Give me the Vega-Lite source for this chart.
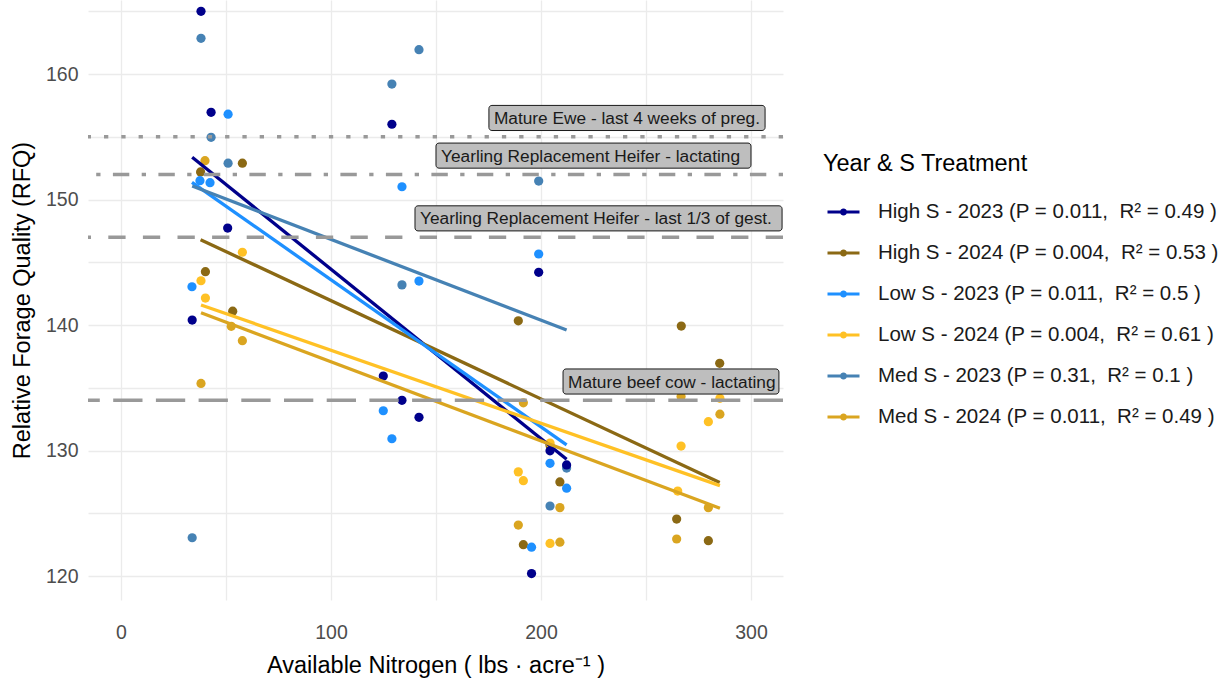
{
  "$schema": "https://vega.github.io/schema/vega-lite/v6.json",
  "width": 695,
  "height": 600,
  "autosize": {"type": "none"},
  "padding": {"left": 88, "top": 0, "right": 442, "bottom": 79},
  "background": "white",
  "config": {
    "view": {"stroke": null},
    "font": "Liberation Sans",
    "axis": {"labelFont": "Liberation Sans", "titleFont": "Liberation Sans"},
    "legend": {"labelFont": "Liberation Sans", "titleFont": "Liberation Sans"}
  },
  "datasets": {
    "points": [
      {"group": "Med S - 2023 (P = 0.31, \u00a0R² = 0.1 )", "nitrogen": 212.2, "rfq": 128.6},
      {"group": "Med S - 2023 (P = 0.31, \u00a0R² = 0.1 )", "nitrogen": 38.1, "rfq": 162.85},
      {"group": "Med S - 2023 (P = 0.31, \u00a0R² = 0.1 )", "nitrogen": 42.9, "rfq": 154.96},
      {"group": "Med S - 2023 (P = 0.31, \u00a0R² = 0.1 )", "nitrogen": 51.0, "rfq": 152.9},
      {"group": "Med S - 2023 (P = 0.31, \u00a0R² = 0.1 )", "nitrogen": 33.9, "rfq": 123.05},
      {"group": "Med S - 2023 (P = 0.31, \u00a0R² = 0.1 )", "nitrogen": 141.9, "rfq": 161.94},
      {"group": "Med S - 2023 (P = 0.31, \u00a0R² = 0.1 )", "nitrogen": 129.0, "rfq": 159.2},
      {"group": "Med S - 2023 (P = 0.31, \u00a0R² = 0.1 )", "nitrogen": 133.8, "rfq": 143.2},
      {"group": "Med S - 2023 (P = 0.31, \u00a0R² = 0.1 )", "nitrogen": 198.9, "rfq": 151.47},
      {"group": "Med S - 2023 (P = 0.31, \u00a0R² = 0.1 )", "nitrogen": 204.3, "rfq": 125.58},

      {"group": "High S - 2024 (P = 0.004, \u00a0R² = 0.53 )", "nitrogen": 37.9, "rfq": 152.2},
      {"group": "High S - 2024 (P = 0.004, \u00a0R² = 0.53 )", "nitrogen": 57.8, "rfq": 152.9},
      {"group": "High S - 2024 (P = 0.004, \u00a0R² = 0.53 )", "nitrogen": 40.2, "rfq": 144.25},
      {"group": "High S - 2024 (P = 0.004, \u00a0R² = 0.53 )", "nitrogen": 53.2, "rfq": 141.1},
      {"group": "High S - 2024 (P = 0.004, \u00a0R² = 0.53 )", "nitrogen": 189.2, "rfq": 140.34},
      {"group": "High S - 2024 (P = 0.004, \u00a0R² = 0.53 )", "nitrogen": 191.6, "rfq": 122.5},
      {"group": "High S - 2024 (P = 0.004, \u00a0R² = 0.53 )", "nitrogen": 209.0, "rfq": 127.5},
      {"group": "High S - 2024 (P = 0.004, \u00a0R² = 0.53 )", "nitrogen": 204.3, "rfq": 130.4},
      {"group": "High S - 2024 (P = 0.004, \u00a0R² = 0.53 )", "nitrogen": 266.8, "rfq": 139.92},
      {"group": "High S - 2024 (P = 0.004, \u00a0R² = 0.53 )", "nitrogen": 285.1, "rfq": 136.95},
      {"group": "High S - 2024 (P = 0.004, \u00a0R² = 0.53 )", "nitrogen": 264.6, "rfq": 124.54},
      {"group": "High S - 2024 (P = 0.004, \u00a0R² = 0.53 )", "nitrogen": 279.7, "rfq": 122.82},

      {"group": "Low S - 2024 (P = 0.004, \u00a0R² = 0.61 )", "nitrogen": 57.8, "rfq": 145.8},
      {"group": "Low S - 2024 (P = 0.004, \u00a0R² = 0.61 )", "nitrogen": 38.1, "rfq": 143.53},
      {"group": "Low S - 2024 (P = 0.004, \u00a0R² = 0.61 )", "nitrogen": 40.2, "rfq": 142.15},
      {"group": "Low S - 2024 (P = 0.004, \u00a0R² = 0.61 )", "nitrogen": 189.2, "rfq": 128.3},
      {"group": "Low S - 2024 (P = 0.004, \u00a0R² = 0.61 )", "nitrogen": 191.6, "rfq": 127.6},
      {"group": "Low S - 2024 (P = 0.004, \u00a0R² = 0.61 )", "nitrogen": 204.3, "rfq": 130.6},
      {"group": "Low S - 2024 (P = 0.004, \u00a0R² = 0.61 )", "nitrogen": 204.3, "rfq": 122.6},
      {"group": "Low S - 2024 (P = 0.004, \u00a0R² = 0.61 )", "nitrogen": 285.2, "rfq": 134.16},
      {"group": "Low S - 2024 (P = 0.004, \u00a0R² = 0.61 )", "nitrogen": 279.7, "rfq": 132.3},
      {"group": "Low S - 2024 (P = 0.004, \u00a0R² = 0.61 )", "nitrogen": 266.7, "rfq": 130.36},
      {"group": "Low S - 2024 (P = 0.004, \u00a0R² = 0.61 )", "nitrogen": 265.1, "rfq": 126.77},

      {"group": "Med S - 2024 (P = 0.011, \u00a0R² = 0.49 )", "nitrogen": 40.0, "rfq": 153.1},
      {"group": "Med S - 2024 (P = 0.011, \u00a0R² = 0.49 )", "nitrogen": 52.5, "rfq": 139.9},
      {"group": "Med S - 2024 (P = 0.011, \u00a0R² = 0.49 )", "nitrogen": 57.8, "rfq": 138.75},
      {"group": "Med S - 2024 (P = 0.011, \u00a0R² = 0.49 )", "nitrogen": 38.1, "rfq": 135.35},
      {"group": "Med S - 2024 (P = 0.011, \u00a0R² = 0.49 )", "nitrogen": 191.6, "rfq": 133.8},
      {"group": "Med S - 2024 (P = 0.011, \u00a0R² = 0.49 )", "nitrogen": 189.2, "rfq": 124.06},
      {"group": "Med S - 2024 (P = 0.011, \u00a0R² = 0.49 )", "nitrogen": 209.0, "rfq": 125.45},
      {"group": "Med S - 2024 (P = 0.011, \u00a0R² = 0.49 )", "nitrogen": 209.0, "rfq": 122.7},
      {"group": "Med S - 2024 (P = 0.011, \u00a0R² = 0.49 )", "nitrogen": 266.7, "rfq": 134.3},
      {"group": "Med S - 2024 (P = 0.011, \u00a0R² = 0.49 )", "nitrogen": 285.2, "rfq": 132.9},
      {"group": "Med S - 2024 (P = 0.011, \u00a0R² = 0.49 )", "nitrogen": 279.7, "rfq": 125.45},
      {"group": "Med S - 2024 (P = 0.011, \u00a0R² = 0.49 )", "nitrogen": 264.6, "rfq": 122.95},

      {"group": "Low S - 2023 (P = 0.011, \u00a0R² = 0.5 )", "nitrogen": 51.0, "rfq": 156.8},
      {"group": "Low S - 2023 (P = 0.011, \u00a0R² = 0.5 )", "nitrogen": 37.6, "rfq": 151.5},
      {"group": "Low S - 2023 (P = 0.011, \u00a0R² = 0.5 )", "nitrogen": 42.4, "rfq": 151.34},
      {"group": "Low S - 2023 (P = 0.011, \u00a0R² = 0.5 )", "nitrogen": 33.8, "rfq": 143.05},
      {"group": "Low S - 2023 (P = 0.011, \u00a0R² = 0.5 )", "nitrogen": 133.8, "rfq": 151.02},
      {"group": "Low S - 2023 (P = 0.011, \u00a0R² = 0.5 )", "nitrogen": 141.9, "rfq": 143.5},
      {"group": "Low S - 2023 (P = 0.011, \u00a0R² = 0.5 )", "nitrogen": 124.9, "rfq": 133.17},
      {"group": "Low S - 2023 (P = 0.011, \u00a0R² = 0.5 )", "nitrogen": 129.0, "rfq": 130.94},
      {"group": "Low S - 2023 (P = 0.011, \u00a0R² = 0.5 )", "nitrogen": 198.9, "rfq": 145.66},
      {"group": "Low S - 2023 (P = 0.011, \u00a0R² = 0.5 )", "nitrogen": 204.3, "rfq": 128.98},
      {"group": "Low S - 2023 (P = 0.011, \u00a0R² = 0.5 )", "nitrogen": 195.5, "rfq": 122.3},
      {"group": "Low S - 2023 (P = 0.011, \u00a0R² = 0.5 )", "nitrogen": 212.2, "rfq": 127.0},

      {"group": "High S - 2023 (P = 0.011, \u00a0R² = 0.49 )", "nitrogen": 38.1, "rfq": 165.0},
      {"group": "High S - 2023 (P = 0.011, \u00a0R² = 0.49 )", "nitrogen": 42.9, "rfq": 156.95},
      {"group": "High S - 2023 (P = 0.011, \u00a0R² = 0.49 )", "nitrogen": 50.8, "rfq": 147.73},
      {"group": "High S - 2023 (P = 0.011, \u00a0R² = 0.49 )", "nitrogen": 33.9, "rfq": 140.4},
      {"group": "High S - 2023 (P = 0.011, \u00a0R² = 0.49 )", "nitrogen": 129.0, "rfq": 156.0},
      {"group": "High S - 2023 (P = 0.011, \u00a0R² = 0.49 )", "nitrogen": 124.9, "rfq": 135.94},
      {"group": "High S - 2023 (P = 0.011, \u00a0R² = 0.49 )", "nitrogen": 133.8, "rfq": 134.0},
      {"group": "High S - 2023 (P = 0.011, \u00a0R² = 0.49 )", "nitrogen": 141.9, "rfq": 132.65},
      {"group": "High S - 2023 (P = 0.011, \u00a0R² = 0.49 )", "nitrogen": 198.9, "rfq": 144.2},
      {"group": "High S - 2023 (P = 0.011, \u00a0R² = 0.49 )", "nitrogen": 204.3, "rfq": 129.98},
      {"group": "High S - 2023 (P = 0.011, \u00a0R² = 0.49 )", "nitrogen": 195.5, "rfq": 120.2},
      {"group": "High S - 2023 (P = 0.011, \u00a0R² = 0.49 )", "nitrogen": 212.2, "rfq": 128.85}
    ],
    "fits": [
      {"group": "High S - 2023 (P = 0.011, \u00a0R² = 0.49 )", "nitrogen": 33.9, "rfq": 153.37},
      {"group": "High S - 2023 (P = 0.011, \u00a0R² = 0.49 )", "nitrogen": 212.2, "rfq": 129.3},
      {"group": "High S - 2024 (P = 0.004, \u00a0R² = 0.53 )", "nitrogen": 37.9, "rfq": 146.8},
      {"group": "High S - 2024 (P = 0.004, \u00a0R² = 0.53 )", "nitrogen": 285.1, "rfq": 127.45},
      {"group": "Low S - 2023 (P = 0.011, \u00a0R² = 0.5 )", "nitrogen": 33.8, "rfq": 151.37},
      {"group": "Low S - 2023 (P = 0.011, \u00a0R² = 0.5 )", "nitrogen": 212.2, "rfq": 130.45},
      {"group": "Low S - 2024 (P = 0.004, \u00a0R² = 0.61 )", "nitrogen": 38.1, "rfq": 141.6},
      {"group": "Low S - 2024 (P = 0.004, \u00a0R² = 0.61 )", "nitrogen": 285.2, "rfq": 127.2},
      {"group": "Med S - 2023 (P = 0.31, \u00a0R² = 0.1 )", "nitrogen": 33.9, "rfq": 151.08},
      {"group": "Med S - 2023 (P = 0.31, \u00a0R² = 0.1 )", "nitrogen": 212.2, "rfq": 139.6},
      {"group": "Med S - 2024 (P = 0.011, \u00a0R² = 0.49 )", "nitrogen": 38.1, "rfq": 140.98},
      {"group": "Med S - 2024 (P = 0.011, \u00a0R² = 0.49 )", "nitrogen": 285.2, "rfq": 125.4}
    ],
    "requirements": [
      {"animal": "Mature Ewe - last 4 weeks of preg.", "rfq": 155, "style": "dotted", "x0": 175.2, "x1": 306.7, "y0": 155.5, "y1": 157.5},
      {"animal": "Yearling Replacement Heifer - lactating", "rfq": 152, "style": "dotdash", "x0": 150.0, "x1": 300.0, "y0": 152.5, "y1": 154.5},
      {"animal": "Yearling Replacement Heifer - last 1/3 of gest.", "rfq": 147, "style": "dashed", "x0": 140.0, "x1": 314.8, "y0": 147.5, "y1": 149.5},
      {"animal": "Mature beef cow - lactating", "rfq": 134, "style": "longdash", "x0": 210.5, "x1": 313.3, "y0": 134.5, "y1": 136.5}
    ]
  },
  "layer": [
    {
      "data": {"name": "points"},
      "mark": {"type": "point", "filled": true, "opacity": 1, "size": 85},
      "encoding": {
        "x": {
          "field": "nitrogen", "type": "quantitative",
          "scale": {"domain": [-15.71, 315.24], "nice": false, "zero": false},
          "axis": {
            "values": [0, 50, 100, 150, 200, 250, 300],
            "labelExpr": "datum.value % 100 === 0 ? datum.label : ''",
            "grid": true, "gridColor": "#EBEBEB", "gridWidth": 1.3,
            "domain": false, "ticks": false, "tickSize": 0,
            "labelPadding": 23, "labelFontSize": 19.5, "labelColor": "#4D4D4D",
            "labelFlush": false, "labelOverlap": false,
            "title": "Available Nitrogen ( lbs · acre⁻¹ )",
            "titleFontSize": 23.5, "titleFontWeight": "normal", "titleColor": "#000000",
            "titlePadding": 12
          }
        },
        "y": {
          "field": "rfq", "type": "quantitative",
          "scale": {"domain": [118.09, 165.9], "nice": false, "zero": false},
          "axis": {
            "values": [120, 125, 130, 135, 140, 145, 150, 155, 160, 165],
            "labelExpr": "datum.value % 10 === 0 ? datum.label : ''",
            "grid": true, "gridColor": "#EBEBEB", "gridWidth": 1.3,
            "domain": false, "ticks": false, "tickSize": 0,
            "labelPadding": 10, "labelFontSize": 19.5, "labelColor": "#4D4D4D",
            "labelFlush": false, "labelOverlap": false,
            "title": "Relative Forage Quality (RFQ)",
            "titleFontSize": 23.5, "titleFontWeight": "normal", "titleColor": "#000000",
            "titlePadding": 11
          }
        },
        "color": {
          "field": "group", "type": "nominal",
          "scale": {
            "domain": [
              "High S - 2023 (P = 0.011, \u00a0R² = 0.49 )",
              "High S - 2024 (P = 0.004, \u00a0R² = 0.53 )",
              "Low S - 2023 (P = 0.011, \u00a0R² = 0.5 )",
              "Low S - 2024 (P = 0.004, \u00a0R² = 0.61 )",
              "Med S - 2023 (P = 0.31, \u00a0R² = 0.1 )",
              "Med S - 2024 (P = 0.011, \u00a0R² = 0.49 )"
            ],
            "range": ["#00008B", "#8B6914", "#1E90FF", "#FFC125", "#4682B4", "#DAA520"]
          },
          "legend": {
            "orient": "none", "legendX": 735, "legendY": 152,
            "title": "Year & S Treatment", "titleLimit": 420,
            "titleFontSize": 23.5, "titleFontWeight": "normal", "titleColor": "#000000",
            "titlePadding": 19,
            "labelFontSize": 20.5, "labelColor": "#1A1A1A", "labelOffset": 17,
            "labelLimit": 420,
            "symbolType": "M-1,0L1,0M-0.13,0A0.13,0.13,0,1,0,0.13,0A0.13,0.13,0,1,0,-0.13,0Z",
            "symbolSize": 1024, "symbolStrokeWidth": 3, "symbolOffset": 3,
            "rowPadding": 13, "padding": 0,
            "encode": {
              "symbols": {
                "update": {
                  "stroke": {"scale": "color", "field": "value"},
                  "fill": {"scale": "color", "field": "value"},
                  "opacity": {"value": 1}
                }
              }
            }
          }
        }
      }
    },
    {
      "data": {"name": "fits"},
      "mark": {"type": "line", "strokeWidth": 3.3},
      "encoding": {
        "x": {"field": "nitrogen", "type": "quantitative"},
        "y": {"field": "rfq", "type": "quantitative"},
        "color": {"field": "group", "type": "nominal"}
      }
    },
    {
      "data": {"name": "requirements"},
      "mark": {"type": "rule", "color": "#999999", "strokeWidth": 3.5, "strokeCap": "butt"},
      "encoding": {
        "y": {"field": "rfq", "type": "quantitative"},
        "strokeDash": {
          "field": "style", "type": "nominal",
          "scale": {
            "domain": ["dotted", "dotdash", "dashed", "longdash"],
            "range": [[4.3, 13], [4.3, 12.4, 16.4, 12.4], [17.3, 17.3], [29.3, 13.4]]
          },
          "legend": null
        }
      }
    },
    {
      "data": {"name": "requirements"},
      "mark": {"type": "rect", "fill": "#BEBEBE", "stroke": "#1A1A1A", "strokeWidth": 1, "cornerRadius": 3},
      "encoding": {
        "x": {"field": "x0", "type": "quantitative"},
        "x2": {"field": "x1"},
        "y": {"field": "y0", "type": "quantitative"},
        "y2": {"field": "y1"}
      }
    },
    {
      "data": {"name": "requirements"},
      "mark": {"type": "text", "align": "left", "baseline": "alphabetic", "dx": 5, "dy": -6.5, "fontSize": 17.3, "color": "#1A1A1A"},
      "encoding": {
        "x": {"field": "x0", "type": "quantitative"},
        "y": {"field": "y0", "type": "quantitative"},
        "text": {"field": "animal"}
      }
    }
  ]
}
